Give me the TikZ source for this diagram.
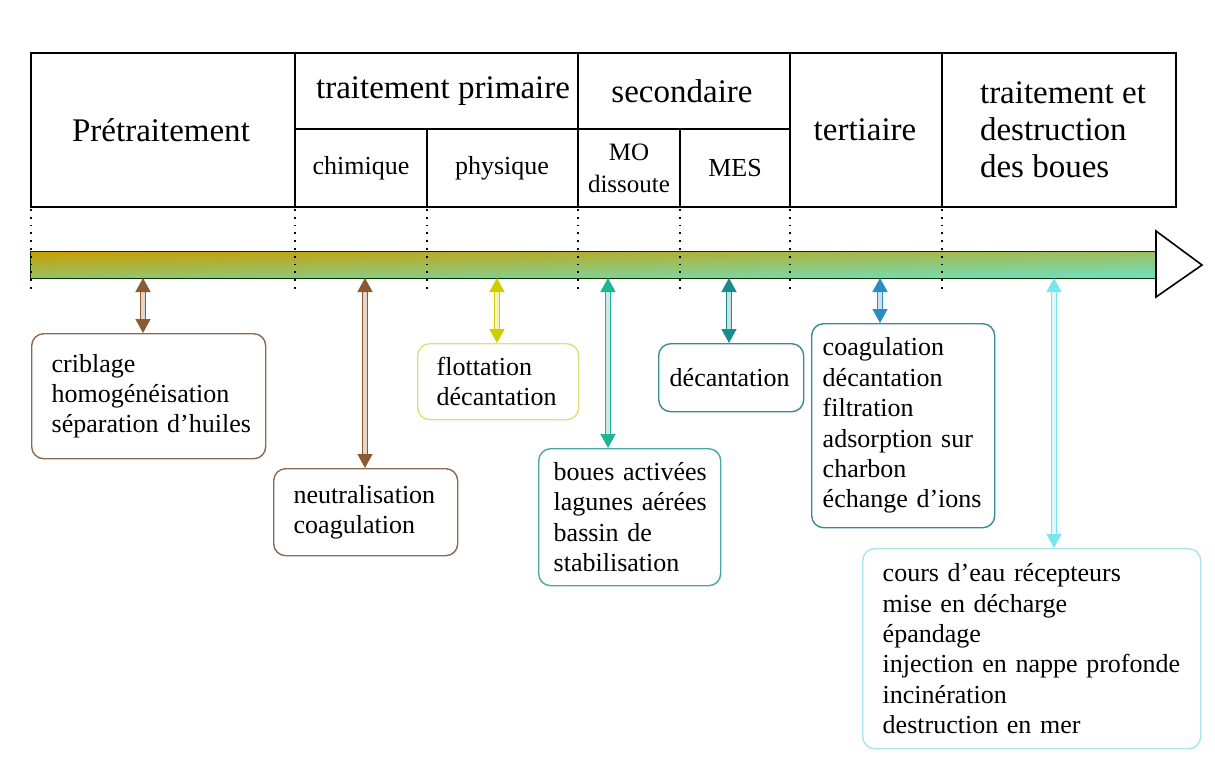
\documentclass[tikz,border=0pt]{standalone}
\usepackage{fontspec}
\setmainfont{Liberation Serif}
\usetikzlibrary{arrows.meta}
\definecolor{brun}{HTML}{8C5A32}
\definecolor{bbrun}{HTML}{8A6A50}
\definecolor{jaune}{HTML}{D0CC00}
\definecolor{bjaune}{HTML}{E2DC80}
\definecolor{vertb}{HTML}{1EB496}
\definecolor{bvertb}{HTML}{4AA8A0}
\definecolor{canard}{HTML}{1A8C8C}
\definecolor{bcanard}{HTML}{3A8A90}
\definecolor{bleu}{HTML}{2A8CC0}
\definecolor{bbleu}{HTML}{3A8898}
\definecolor{cyanc}{HTML}{78E6EE}
\definecolor{bcyanc}{HTML}{A8E4E8}
\definecolor{barL}{HTML}{C0B000}
\definecolor{barR}{HTML}{60F8D0}
\definecolor{barT}{HTML}{D09000}
\definecolor{barB}{HTML}{78D0C0}
\begin{document}
\begin{tikzpicture}[x=0.5pt,y=-0.5pt,
  tete/.style={font=\fontsize{16.5}{18.5}\selectfont},
  sous/.style={font=\fontsize{13}{15}\selectfont},
  boite/.style={draw=#1, rounded corners=6pt, line width=0.7pt, anchor=north west,
    align=left, inner ysep=2pt, font=\fontsize{13}{15.2}\selectfont,
    execute at begin node={\hyphenpenalty=10000\exhyphenpenalty=10000\relax}},
  lien/.style={draw=#1, line width=0.7pt, double=#1!25, double distance=1.8pt,
    {Triangle[length=7pt,width=7.5pt]}-{Triangle[length=7pt,width=7.5pt]}},
  pointille/.style={line width=0.9pt, dash pattern=on 0.9pt off 3pt}]
\useasboundingbox (0,0) rectangle (1215,756);

\draw[line width=1pt] (31,53) rectangle (1176,207);
\draw[line width=1pt] (295,53) -- (295,207) (578,53) -- (578,207)
  (790,53) -- (790,207) (942,53) -- (942,207)
  (295,129) -- (790,129) (427,129) -- (427,207) (680,129) -- (680,207);

\node[tete] (pre) at (161,130) {Prétraitement};
\node[tete] (prim) at (443,91) {traitement primaire};
\node[tete] (sec) at (682,91) {secondaire};
\node[sous] (chim) at (361,168) {chimique};
\node[sous] (phys) at (502,168) {physique};
\node[sous, align=center, font=\fontsize{12.5}{16}\selectfont] (mo) at (629,168) {MO\\dissoute};
\node[sous] (mes) at (735,168) {MES};
\node[tete] (tert) at (865,130) {tertiaire};
\node[tete, align=left, anchor=west] (dest) at (973,130) {traitement et\\destruction\\des boues};

\node[minimum width=563.5pt, minimum height=13pt, inner sep=0pt] (barre) at (594.5,265) {};
\shade[left color=barL, right color=barR] (barre.south west) rectangle (barre.north east);
\shade[top color=barT, bottom color=barB, fill opacity=0.55] (barre.south west) rectangle (barre.north east);
\draw[draw=black!80!green, line width=0.8pt] (barre.south west) rectangle (barre.north east);
\draw[fill=white, line width=0.8pt] (1156,231) -- (1202,265) -- (1156,297) -- cycle;

\foreach \x in {31,295,427,578,680,790,942}
  \draw[pointille] (\x,209) -- (\x,290);

\node[boite=bbrun, text width=97pt, inner xsep=10pt, minimum height=62.5pt] (crib) at (31,333)
  {criblage\\homogénéisation\\séparation~d'huiles};
\node[boite=bbrun, text width=72pt, inner xsep=10pt, minimum height=43.5pt] (neutr) at (273,468)
  {neutralisation\\coagulation};
\node[boite=bjaune, text width=61.5pt, inner xsep=9.5pt, minimum height=38pt] (flott) at (417,343)
  {flottation\\décantation};
\node[boite=bvertb, text width=76pt, inner xsep=7.5pt, minimum height=68.5pt] (bact) at (538,448)
  {boues~activées\\lagunes~aérées\\bassin~de\\stabilisation};
\node[boite=bcanard, text width=61.5pt, inner xsep=5.5pt, minimum height=34pt] (decant) at (658,343)
  {décantation};
\node[boite=bbleu, text width=80.5pt, inner xsep=5.5pt, minimum height=102pt] (terti) at (811,323)
  {coagulation\\décantation\\filtration\\adsorption~sur\\charbon\\échange~d'ions};
\node[boite=bcyanc, text width=149pt, inner xsep=10pt, minimum height=100pt] (rejet) at (862,548)
  {cours~d'eau~récepteurs\\mise~en~décharge\\épandage\\injection~en~nappe~profonde\\incinération\\destruction~en~mer};

\coordinate (p1) at (143,278);
\coordinate (p2) at (365,278);
\coordinate (p3) at (497,278);
\coordinate (p4) at (608,278);
\coordinate (p5) at (729,278);
\coordinate (p6) at (880,278);
\coordinate (p7) at (1054,278);

\path[lien=brun] (p1) -- (p1 |- crib.north);
\path[lien=brun] (p2) -- (p2 |- neutr.north);
\path[lien=jaune] (p3) -- (p3 |- flott.north);
\path[lien=vertb] (p4) -- (p4 |- bact.north);
\path[lien=canard] (p5) -- (p5 |- decant.north);
\path[lien=bleu] (p6) -- (p6 |- terti.north);
\path[lien=cyanc] (p7) -- (p7 |- rejet.north);
\end{tikzpicture}
\end{document}
